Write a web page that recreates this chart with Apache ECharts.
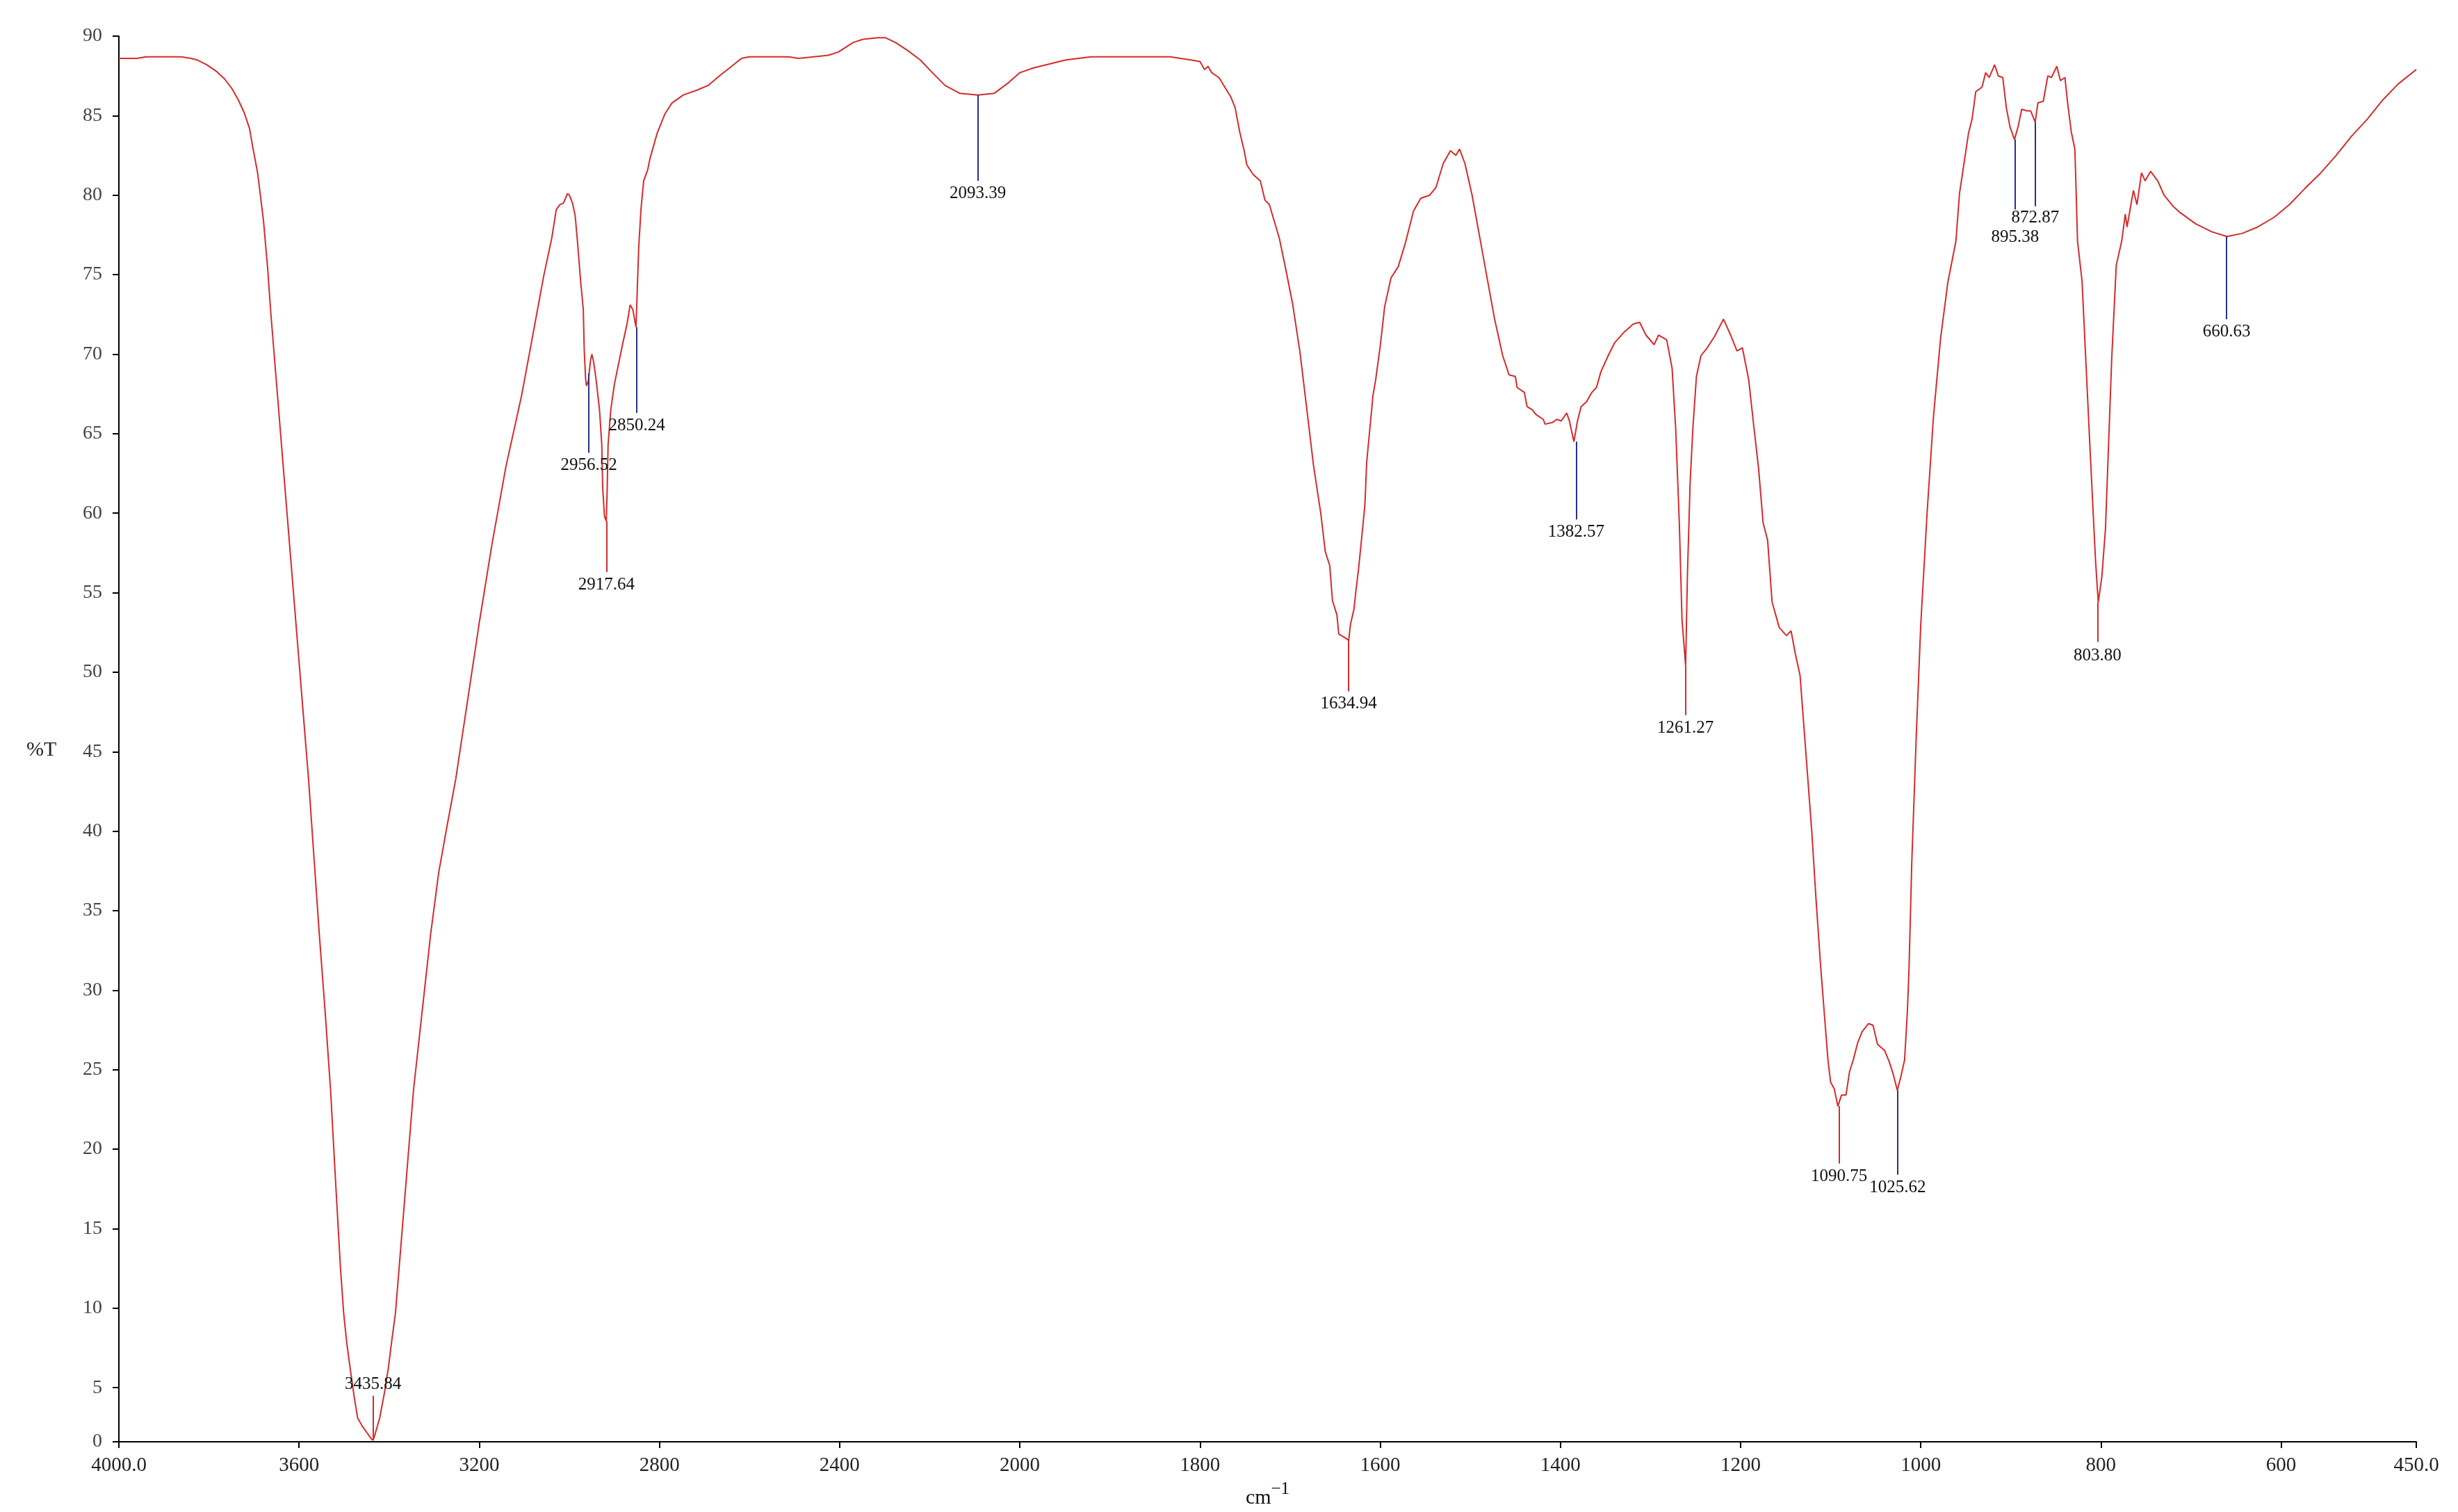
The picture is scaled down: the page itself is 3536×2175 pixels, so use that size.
<!DOCTYPE html>
<html>
<head>
<meta charset="utf-8">
<style>
  html, body { margin: 0; padding: 0; background: #ffffff; }
  #chart { width: 3536px; height: 2175px; }
</style>
<script src="https://cdn.jsdelivr.net/npm/echarts@6/dist/echarts.min.js"></script>
</head>
<body>
<div id="chart"></div>
<script>
// ---------------- data ----------------
const wavenumbers = [
  4000, 3960, 3940, 3900, 3861, 3840, 3826, 3805, 3784, 3765, 3749, 3735, 3722, 3710, 3702, 3692, 3679, 3670,
  3663, 3649, 3635, 3621, 3607, 3593, 3579, 3567, 3555, 3542, 3530, 3518, 3508, 3501, 3494, 3486, 3478, 3470,
  3460, 3450, 3440, 3436, 3432, 3421, 3411, 3402, 3394, 3386, 3374, 3360, 3346, 3327, 3308, 3290, 3271, 3252,
  3226, 3200, 3172, 3141, 3106, 3085, 3057, 3039, 3029, 3021, 3013, 3004, 3000, 2993, 2987, 2982, 2975, 2969,
  2967, 2964, 2962, 2958, 2956, 2953, 2950, 2946, 2941, 2933, 2928, 2926, 2922, 2918, 2916, 2914, 2908, 2900,
  2895, 2882, 2872, 2865, 2859, 2852, 2849, 2846, 2841, 2835, 2826, 2821, 2805, 2788, 2772, 2747, 2717, 2692,
  2667, 2640, 2618, 2601, 2513, 2491, 2425, 2403, 2370, 2348, 2315, 2298, 2276, 2249, 2221, 2194, 2166, 2133,
  2093, 2057, 2024, 2000, 1985, 1949, 1921, 1833, 1810, 1800, 1795, 1791, 1787, 1779, 1766, 1761, 1756, 1751,
  1748, 1741, 1733, 1728, 1723, 1712, 1705, 1697, 1689, 1682, 1674, 1666, 1661, 1656, 1653, 1648, 1646, 1640,
  1635, 1633, 1629, 1627, 1624, 1621, 1617, 1615, 1608, 1605, 1600, 1595, 1588, 1580, 1572, 1563, 1555, 1545,
  1538, 1530, 1522, 1516, 1512, 1506, 1498, 1490, 1482, 1473, 1464, 1457, 1450, 1448, 1440, 1437, 1431, 1427,
  1419, 1417, 1409, 1404, 1399, 1393, 1390, 1385, 1381, 1377, 1371, 1365, 1360, 1355, 1347, 1340, 1329, 1319,
  1312, 1305, 1296, 1291, 1282, 1276, 1272, 1268, 1265, 1261, 1259, 1256, 1253, 1249, 1244, 1237, 1229, 1219,
  1211, 1204, 1198, 1191, 1185, 1180, 1175, 1170, 1165, 1157, 1149, 1144, 1139, 1134, 1130, 1121, 1116, 1111,
  1107, 1103, 1100, 1096, 1092, 1088, 1083, 1079, 1075, 1070, 1065, 1058, 1053, 1048, 1040, 1035, 1031, 1026,
  1022, 1018, 1015, 1013, 1010, 1005, 1000, 993, 986, 978, 970, 961, 957, 952, 947, 943, 939, 932,
  928, 924, 918, 914, 909, 905, 901, 896, 892, 888, 882, 878, 873, 870, 864, 859, 855, 849,
  845, 840, 837, 833, 829, 828, 826, 821, 812, 806, 803, 799, 795, 788, 783, 777, 773, 771,
  764, 760, 755, 751, 745, 737, 730, 720, 712, 695, 677, 660, 643, 626, 608, 591, 574, 556,
  539, 522, 504, 487, 470, 450
];
const transmittance = [
  88.6, 88.6, 88.7, 88.7, 88.7, 88.6, 88.5, 88.2, 87.8, 87.3, 86.7, 86.0, 85.2, 84.2, 82.9, 81.4, 78.4, 75.5,
  72.7, 67.8, 62.9, 58.0, 53.1, 48.2, 43.3, 38.4, 33.5, 28.6, 23.7, 17.5, 12.5, 9.7, 7.8, 6.1, 4.5, 3.1,
  2.6, 2.2, 1.8, 1.7, 2.0, 3.1, 4.6, 6.2, 8.0, 9.7, 13.9, 18.8, 23.7, 28.6, 33.5, 37.4, 40.4, 43.3,
  48.2, 53.1, 58.0, 62.9, 67.4, 70.6, 74.9, 77.3, 79.1, 79.4, 79.5, 80.1, 80.0, 79.5, 78.7, 77.1, 74.6, 72.8,
  70.3, 68.5, 68.0, 68.3, 68.8, 69.6, 70.0, 69.5, 68.5, 66.5, 64.3, 61.6, 59.8, 59.5, 61.5, 64.3, 66.5, 68.1,
  68.8, 70.6, 71.9, 73.1, 72.8, 71.7, 74.2, 76.7, 79.1, 80.9, 81.6, 82.3, 83.9, 85.1, 85.8, 86.3, 86.6, 86.9,
  87.5, 88.1, 88.6, 88.7, 88.7, 88.6, 88.8, 89.0, 89.6, 89.8, 89.9, 89.9, 89.6, 89.1, 88.5, 87.7, 86.9, 86.4,
  86.3, 86.4, 87.1, 87.7, 88.0, 88.5, 88.7, 88.7, 88.5, 88.4, 87.9, 88.1, 87.7, 87.4, 86.2, 85.5, 84.0, 82.8,
  81.9, 81.3, 80.9, 79.7, 79.4, 77.3, 75.4, 73.1, 70.1, 66.8, 63.0, 60.0, 57.6, 56.7, 54.5, 53.6, 52.4, 52.2,
  52.0, 53.0, 54.0, 55.1, 56.5, 58.2, 60.5, 63.2, 67.4, 68.4, 70.5, 73.0, 74.8, 75.5, 77.0, 79.0, 79.8, 80.0,
  80.5, 82.0, 82.8, 82.5, 82.9, 82.0, 80.0, 77.5, 75.0, 72.2, 69.9, 68.7, 68.6, 67.9, 67.6, 66.7, 66.5, 66.2,
  65.9, 65.6, 65.7, 65.9, 65.8, 66.3, 65.8, 64.5, 65.8, 66.7, 67.0, 67.6, 67.9, 68.9, 69.9, 70.7, 71.4, 71.9,
  72.0, 71.2, 70.6, 71.2, 70.9, 69.1, 65.3, 59.4, 53.3, 50.4, 56.1, 61.9, 65.3, 68.6, 69.9, 70.4, 71.1, 72.2,
  71.2, 70.2, 70.4, 68.4, 65.3, 62.8, 59.4, 58.3, 54.4, 52.8, 52.3, 52.6, 51.1, 49.8, 46.8, 40.0, 35.5, 31.4,
  28.5, 25.6, 24.2, 23.8, 22.7, 23.4, 23.4, 24.9, 25.6, 26.7, 27.4, 27.9, 27.8, 26.6, 26.2, 25.5, 24.8, 23.7,
  24.6, 25.6, 28.5, 31.4, 38.0, 46.0, 53.0, 60.0, 66.0, 71.0, 74.5, 77.1, 80.1, 82.0, 83.9, 84.8, 86.5, 86.8,
  87.7, 87.4, 88.2, 87.5, 87.4, 85.5, 84.3, 83.5, 84.3, 85.4, 85.3, 85.3, 84.6, 85.8, 85.9, 87.5, 87.4, 88.1,
  87.2, 87.4, 85.8, 84.0, 82.9, 81.1, 77.1, 74.6, 63.9, 57.0, 54.4, 56.0, 59.0, 69.8, 75.6, 77.1, 78.8, 78.0,
  80.3, 79.4, 81.4, 80.9, 81.5, 80.9, 80.0, 79.3, 78.9, 78.2, 77.7, 77.4, 77.6, 78.0, 78.6, 79.4, 80.4, 81.4,
  82.5, 83.7, 84.8, 86.0, 87.0, 87.9
];

// labelled peaks
const peakWavenumbers = [3435.84, 2956.52, 2917.64, 2850.24, 2093.39, 1634.94, 1382.57, 1261.27, 1090.75, 1025.62, 895.38, 872.87, 803.80, 660.63];
const peakLabels = ['3435.84', '2956.52', '2917.64', '2850.24', '2093.39', '1634.94', '1382.57', '1261.27', '1090.75', '1025.62', '895.38', '872.87', '803.80', '660.63'];
const peakTransmittance = [1.7, 68.8, 59.5, 71.7, 86.3, 52.0, 64.5, 50.4, 22.7, 23.7, 83.5, 84.6, 54.4, 77.4];

// axis ticks
const xTickValues = [4000, 3600, 3200, 2800, 2400, 2000, 1800, 1600, 1400, 1200, 1000, 800, 600, 450];
const xTickLabels = ['4000.0', '3600', '3200', '2800', '2400', '2000', '1800', '1600', '1400', '1200', '1000', '800', '600', '450.0'];
const yAxisBottom = 1.6;
const yTickValues = [yAxisBottom, 5, 10, 15, 20, 25, 30, 35, 40, 45, 50, 55, 60, 65, 70, 75, 80, 85, 90];
const yTickLabels = ['0', '5', '10', '15', '20', '25', '30', '35', '40', '45', '50', '55', '60', '65', '70', '75', '80', '85', '90'];
const yAxisTitle = '%T';
const yAxisTitleAt = 45;   // the %T title sits level with this tick

// ---------------- annotation styling ----------------
const RED = '#d42b2b';
const BLUE = '#28308a';
// marker line: signed length in %T (negative = downward), colour, extra label distance
const peakLineLength = [2.8, -5.0, -3.2, -5.4, -5.4, -3.2, -4.9, -3.1, -3.6, -5.3, -4.4, -5.3, -2.5, -5.2];
const peakLineColor = [RED, BLUE, RED, BLUE, BLUE, RED, BLUE, RED, RED, BLUE, BLUE, BLUE, RED, BLUE];
const peakLabelGap = [4, 6, 6, 6, 6, 6, 6, 6, 6, 6, 28, 4, 7, 6];

// piecewise wavenumber scale: 400 cm-1 per division above 2000, 200 cm-1 per division below
function toAxis(w) {
  return w >= 2000 ? (4000 - w) / 400 : 5 + (2000 - w) / 200;
}

const FONT = 'Liberation Serif';
const seriesData = wavenumbers.map((w, i) => [toAxis(w), transmittance[i]]);
const xTickPos = xTickValues.map(toAxis);

const markLines = peakWavenumbers.map((w, i) => {
  const x = toAxis(w);
  return [
    {
      coord: [x, peakTransmittance[i]],
      name: peakLabels[i],
      lineStyle: { color: peakLineColor[i], width: 2, type: 'solid' },
      label: {
        show: true, position: 'end', formatter: peakLabels[i],
        distance: peakLabelGap[i], fontFamily: FONT, fontSize: 25, color: '#111'
      }
    },
    { coord: [x, peakTransmittance[i] + peakLineLength[i]] }
  ];
});

function nearestLabel(values, labels, v) {
  let best = 0;
  for (let i = 0; i < values.length; i++) {
    if (Math.abs(values[i] - v) < Math.abs(values[best] - v)) best = i;
  }
  return labels[best];
}

const chart = echarts.init(document.getElementById('chart'), null, { renderer: 'canvas' });
chart.setOption({
  animation: false,
  backgroundColor: '#ffffff',
  grid: { left: 171, right: 60, top: 52, bottom: 88 },
  xAxis: {
    type: 'value',
    min: toAxis(4000),
    max: toAxis(450),
    name: '{a|cm}{b|−1}',
    nameLocation: 'middle',
    nameGap: 56,
    nameTextStyle: {
      rich: {
        a: { fontFamily: FONT, fontSize: 30, color: '#111', verticalAlign: 'bottom', lineHeight: 40 },
        b: { fontFamily: FONT, fontSize: 25, color: '#111', verticalAlign: 'top', lineHeight: 40 }
      }
    },
    axisLine: { show: true, lineStyle: { color: '#000', width: 2 } },
    axisTick: { show: true, customValues: xTickPos, length: 9, lineStyle: { color: '#000', width: 2 } },
    axisLabel: {
      customValues: xTickPos,
      margin: 20,
      fontFamily: FONT, fontSize: 29, color: '#222',
      formatter: v => nearestLabel(xTickPos, xTickLabels, v)
    },
    splitLine: { show: false }
  },
  yAxis: {
    type: 'value',
    min: yAxisBottom,
    max: 90,
    axisLine: { show: true, lineStyle: { color: '#000', width: 2 } },
    axisTick: { show: true, customValues: yTickValues, length: 9, lineStyle: { color: '#000', width: 2 } },
    axisLabel: {
      customValues: yTickValues,
      margin: 24,
      fontFamily: FONT, fontSize: 28, color: '#444',
      formatter: v => nearestLabel(yTickValues, yTickLabels, v)
    },
    splitLine: { show: false }
  },
  series: [{
    type: 'line',
    data: seriesData,
    showSymbol: false,
    symbol: 'none',
    smooth: false,
    lineStyle: { color: RED, width: 2 },
    itemStyle: { color: RED },
    silent: true,
    markLine: {
      silent: true,
      symbol: ['none', 'none'],
      animation: false,
      data: markLines
    }
  }]
});

// y-axis title placed level with its tick, through the axis scale
const titleY = chart.convertToPixel({ yAxisIndex: 0 }, yAxisTitleAt);
chart.setOption({
  graphic: [{
    type: 'text',
    left: 38,
    top: titleY - 17,
    silent: true,
    style: { text: yAxisTitle, font: '30px "Liberation Serif"', fill: '#222' }
  }]
});
</script>
</body>
</html>
